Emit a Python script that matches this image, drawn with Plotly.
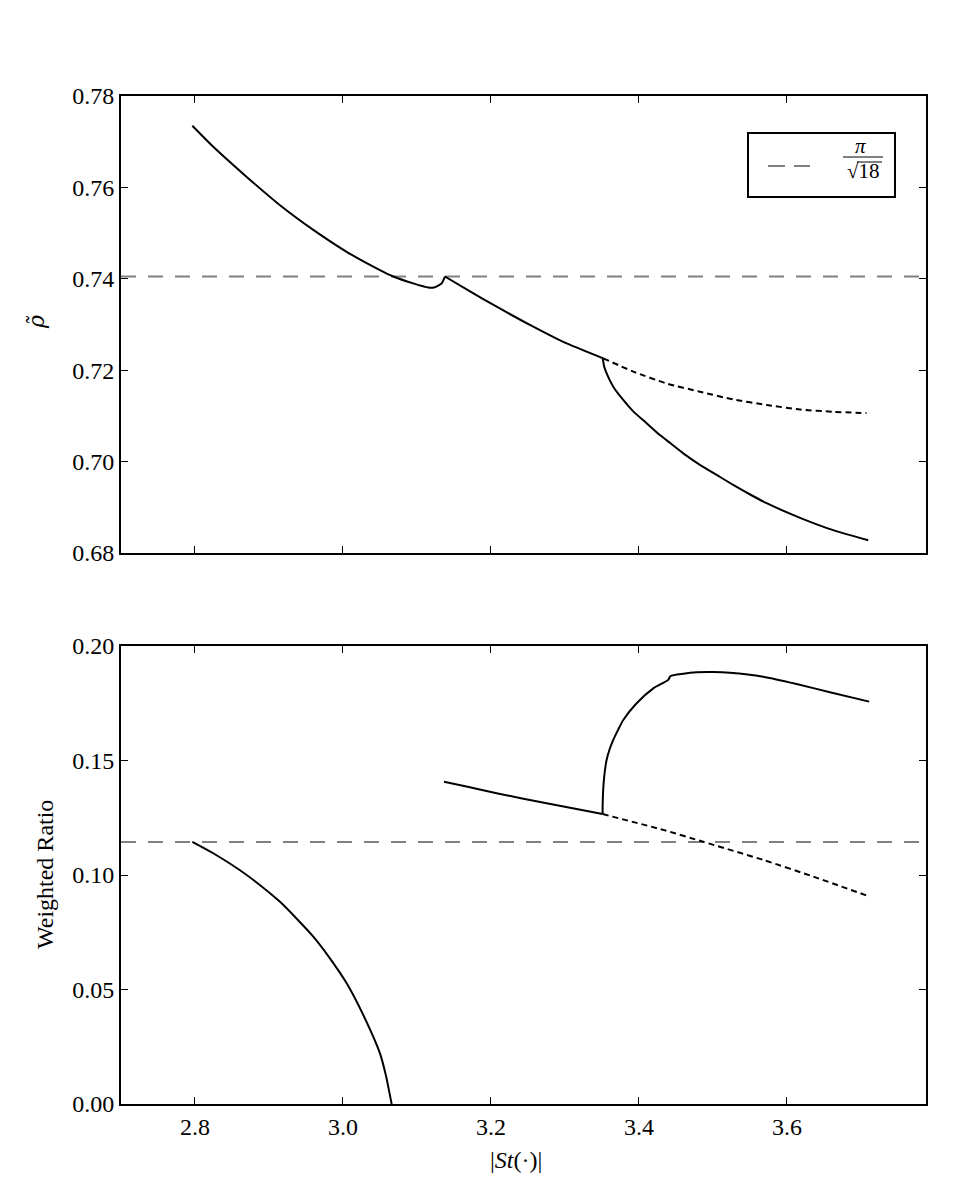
import math
import plotly.graph_objects as go

# ---------------- data ----------------
# top panel: rho tilde
top_s1_x = [2.7964, 2.8247, 2.8699, 2.9149, 2.9599, 3.0050, 3.0500, 3.0680, 3.0950, 3.1153, 3.1230, 3.1288, 3.1334, 3.1378]
top_s1_y = [0.7735, 0.7689, 0.7623, 0.7561, 0.7507, 0.7459, 0.7419, 0.7405, 0.7390, 0.7381, 0.7381, 0.7385, 0.7390, 0.7405]
top_s2_x = [3.1378, 3.1700, 3.2077, 3.2527, 3.2977, 3.3518]
top_s2_y = [0.7405, 0.7374, 0.7339, 0.7299, 0.7262, 0.7226]
top_dash_x = [3.3518, 3.3923, 3.4374, 3.4824, 3.5274, 3.5726, 3.6178, 3.6626, 3.7077]
top_dash_y = [0.7226, 0.7197, 0.7171, 0.7153, 0.7136, 0.7124, 0.7114, 0.7109, 0.7106]
top_low_x = [3.3512, 3.3530, 3.3564, 3.3653, 3.3788, 3.3923, 3.4104, 3.4284, 3.4427,
             3.4599, 3.4824, 3.5050, 3.5274, 3.5503, 3.5726, 3.6178, 3.6626, 3.7099]
top_low_y = [0.7226, 0.7208, 0.7193, 0.7164, 0.7135, 0.7110, 0.7084, 0.7058, 0.7040,
             0.7018, 0.6993, 0.6971, 0.6949, 0.6928, 0.6909, 0.6877, 0.6850, 0.6828]

# bottom panel: weighted ratio
bot_s1_x = [2.7964, 2.8247, 2.8699, 2.9149, 2.9599, 2.9824, 3.0050, 3.0274, 3.0500, 3.0580, 3.0658]
bot_s1_y = [0.1145, 0.1095, 0.1000, 0.0883, 0.0731, 0.0636, 0.0527, 0.0389, 0.0221, 0.0125, 0.0000]
bot_s2_x = [3.1365, 3.1700, 3.2077, 3.2752, 3.3509]
bot_s2_y = [0.1407, 0.1384, 0.1357, 0.1313, 0.1266]
bot_dash_x = [3.3509, 3.4329, 3.4869, 3.5680, 3.6356, 3.7099]
bot_dash_y = [0.1266, 0.1197, 0.1145, 0.1066, 0.0993, 0.0908]
bot_up_x = [3.3509, 3.3510, 3.3515, 3.3525, 3.3540, 3.3563, 3.3605, 3.3653, 3.3720, 3.3788, 3.3969, 3.4194,
            3.4396, 3.4428, 3.4600, 3.4779, 3.5000, 3.5230, 3.5680, 3.6131, 3.6581, 3.7112]
bot_up_y = [0.1266, 0.1310, 0.1360, 0.1410, 0.1455, 0.1502, 0.1550, 0.1590, 0.1635, 0.1677, 0.1750, 0.1815,
            0.1852, 0.1869, 0.1879, 0.1885, 0.1886, 0.1883, 0.1866, 0.1834, 0.1798, 0.1757]

ref_x = [2.7, 3.788]
ref_top = [math.pi / math.sqrt(18)] * 2
ref_bot = [0.1144, 0.1144]

x_ticks = [2.8, 3.0, 3.2, 3.4, 3.6]
top_ticks = [0.68, 0.70, 0.72, 0.74, 0.76, 0.78]
bot_ticks = [0.00, 0.05, 0.10, 0.15, 0.20]

# ---------------- figure ----------------
FONT = "Liberation Serif"
BLACK = "#000000"
GREY = "#808080"

fig = go.Figure()

solid = dict(color=BLACK, width=2, shape="spline", smoothing=0.6)
dashed = dict(color=BLACK, width=2, dash="6px,4px", shape="spline", smoothing=0.6)
refline = dict(color=GREY, width=2, dash="15px,12px")

def add(x, y, line, xa, ya):
    fig.add_trace(go.Scatter(x=x, y=y, mode="lines", line=line, showlegend=False,
                             hoverinfo="skip", xaxis=xa, yaxis=ya))

add(ref_x, ref_top, refline, "x", "y")
add(top_s1_x, top_s1_y, solid, "x", "y")
add(top_s2_x, top_s2_y, solid, "x", "y")
add(top_dash_x, top_dash_y, dashed, "x", "y")
add(top_low_x, top_low_y, solid, "x", "y")

add(ref_x, ref_bot, refline, "x2", "y2")
add(bot_s1_x, bot_s1_y, solid, "x2", "y2")
add(bot_s2_x, bot_s2_y, solid, "x2", "y2")
add(bot_dash_x, bot_dash_y, dashed, "x2", "y2")
add(bot_up_x, bot_up_y, solid, "x2", "y2")

W, H = 975, 1200
xdom = [121 / W, 926 / W]

def axis(**kw):
    d = dict(showline=True, linecolor=BLACK, linewidth=2, mirror="allticks",
             ticks="inside", ticklen=7, tickwidth=1, tickcolor=BLACK,
             showgrid=False, zeroline=False, automargin=False,
             tickfont=dict(family=FONT, size=24, color=BLACK))
    d.update(kw)
    return d

fig.update_layout(
    width=W, height=H,
    margin=dict(l=0, r=0, t=0, b=0, pad=0, autoexpand=False),
    paper_bgcolor="white", plot_bgcolor="white",
    font=dict(family=FONT, color=BLACK, size=24),
    xaxis=axis(domain=xdom, range=ref_x, tickvals=x_ticks, showticklabels=False,
               anchor="y"),
    yaxis=axis(domain=[1 - 553 / H, 1 - 96 / H], range=[0.68, 0.78], tickvals=top_ticks,
               ticktext=[f"{v:.2f}" for v in top_ticks], anchor="x"),
    xaxis2=axis(domain=xdom, range=ref_x, tickvals=x_ticks,
                ticktext=[f"{v:.1f}" for v in x_ticks], anchor="y2"),
    yaxis2=axis(domain=[1 - 1104 / H, 1 - 646 / H], range=[0.0, 0.20], tickvals=bot_ticks,
                ticktext=[f"{v:.2f}" for v in bot_ticks], anchor="x2"),
    showlegend=False,
)

def ann(x, y, text, size, angle=0, family=FONT):
    fig.add_annotation(x=x / W, y=1 - y / H, xref="paper", yref="paper",
                       xanchor="center", yanchor="middle",
                       text=text, showarrow=False, textangle=angle,
                       font=dict(family=family, size=size, color=BLACK))

# axis titles
ann(36, 322, "<i>ρ̃</i>", 22, -90, "DejaVu Serif")
ann(45, 875, "Weighted Ratio", 24, -90)
ann(516, 1160, "|<i>St</i>(·)|", 24)

# legend box (drawn manually)
fig.add_shape(type="rect", xref="paper", yref="paper",
              x0=748 / W, x1=895 / W, y0=1 - 197 / H, y1=1 - 133 / H,
              line=dict(color=BLACK, width=2), fillcolor="white", layer="above")
fig.add_shape(type="line", xref="paper", yref="paper",
              x0=768 / W, x1=810 / W, y0=1 - 166 / H, y1=1 - 166 / H,
              line=dict(color=BLACK, width=1.2, dash="17px,9px"), layer="above")
ann(860, 146, "<i>π</i>", 21)
fig.add_shape(type="line", xref="paper", yref="paper",
              x0=843 / W, x1=883 / W, y0=1 - 157 / H, y1=1 - 157 / H,
              line=dict(color=BLACK, width=1), layer="above")
ann(863, 171, "√18", 21)
fig.add_shape(type="line", xref="paper", yref="paper",
              x0=857 / W, x1=882 / W, y0=1 - 162 / H, y1=1 - 162 / H,
              line=dict(color=BLACK, width=1), layer="above")

fig.write_html("out.html")
